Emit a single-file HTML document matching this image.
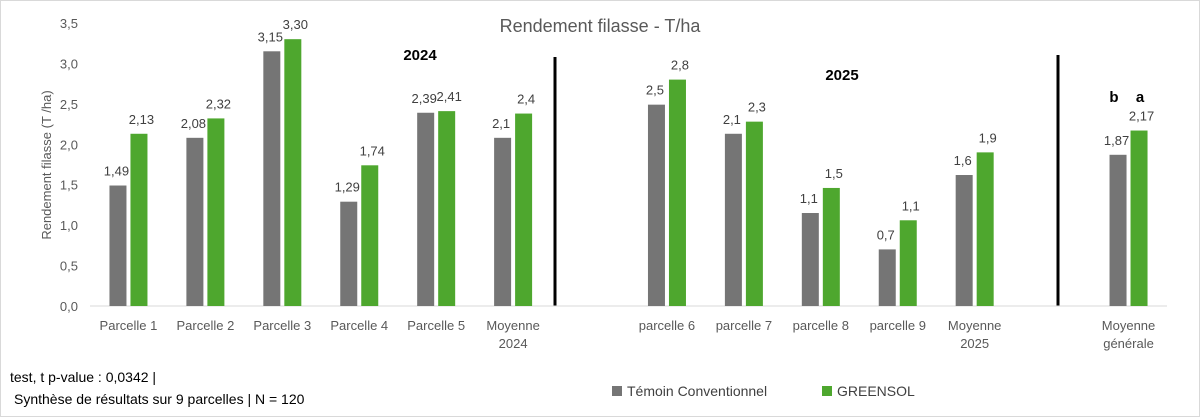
<!DOCTYPE html>
<html><head><meta charset="utf-8"><style>
body{margin:0;background:#fff;}
svg{display:block;font-family:"Liberation Sans",sans-serif;}
</style></head><body>
<svg id="c" width="1200" height="417" viewBox="0 0 1200 417">
<rect x="0.5" y="0.5" width="1199" height="416" fill="#fff" stroke="#d9d9d9"/>
<text x="600" y="32" text-anchor="middle" font-size="18" fill="#595959">Rendement filasse - T/ha</text>
<text transform="translate(51,165) rotate(-90)" text-anchor="middle" font-size="13" fill="#595959">Rendement filasse (T /ha)</text>
<text x="420" y="60" text-anchor="middle" font-size="15" font-weight="bold" fill="#000">2024</text>
<text x="842" y="80" text-anchor="middle" font-size="15" font-weight="bold" fill="#000">2025</text>
<text x="1114" y="102" text-anchor="middle" font-size="15" font-weight="bold" fill="#000">b</text>
<text x="1140" y="102" text-anchor="middle" font-size="15" font-weight="bold" fill="#000">a</text>
<line x1="555" y1="57" x2="555" y2="306" stroke="#000" stroke-width="3"/>
<line x1="1058" y1="55" x2="1058" y2="306" stroke="#000" stroke-width="3"/>
<g id="plot"></g>
<text x="10" y="382" font-size="14" fill="#000">test, t  p-value :  0,0342  |</text>
<text x="14" y="404" font-size="14" fill="#000">Synthèse de résultats sur 9 parcelles  | N =  120</text>
<rect x="612" y="386" width="10" height="10" fill="#757575"/>
<text x="627" y="396" font-size="14" fill="#404040">Témoin Conventionnel</text>
<rect x="822" y="386" width="10" height="10" fill="#4ea72e"/>
<text x="837" y="396" font-size="14" fill="#404040">GREENSOL</text>
</svg>
<script>
const categories=["Parcelle 1","Parcelle 2","Parcelle 3","Parcelle 4","Parcelle 5","Moyenne|2024","","parcelle 6","parcelle 7","parcelle 8","parcelle 9","Moyenne|2025","","Moyenne|générale"];
const temoin=[1.49,2.08,3.15,1.29,2.39,2.08,null,2.49,2.13,1.15,0.70,1.62,null,1.87];
const greensol=[2.13,2.32,3.30,1.74,2.41,2.38,null,2.80,2.28,1.46,1.06,1.90,null,2.17];
const temoinLabels=["1,49","2,08","3,15","1,29","2,39","2,1","","2,5","2,1","1,1","0,7","1,6","","1,87"];
const greensolLabels=["2,13","2,32","3,30","1,74","2,41","2,4","","2,8","2,3","1,5","1,1","1,9","","2,17"];
const yTicks=[0,0.5,1,1.5,2,2.5,3,3.5];
const yTickLabels=["0,0","0,5","1,0","1,5","2,0","2,5","3,0","3,5"];
const NS="http://www.w3.org/2000/svg";
const g=document.getElementById("plot");
const x0=90,x1=1167,y0=306,yTop=23,ymax=3.5;
const slot=(x1-x0)/categories.length;
const y=v=>y0-(v/ymax)*(y0-yTop);
const cx=i=>x0+slot*(i+0.5);
function mk(t,a){const e=document.createElementNS(NS,t);for(const k in a)e.setAttribute(k,a[k]);g.appendChild(e);return e;}
yTicks.forEach((v,i)=>{
 const t=mk("text",{x:78,y:y(v)+5,"text-anchor":"end","font-size":13,fill:"#595959"});
 
 
 t.textContent=yTickLabels[i];
});
const ax=mk("line",{x1:x0,y1:y0,x2:x1,y2:y0,stroke:"#d9d9d9","stroke-width":1});


categories.forEach((c,i)=>{
 const c0=cx(i);
 if(c){
  const lines=c.split("|");
  lines.forEach((l,j)=>{
   const t=mk("text",{x:c0,y:330+j*18,"text-anchor":"middle","font-size":13,fill:"#595959"});
   
   
   t.textContent=l;
  });
 }
 if(temoin[i]!=null){
  const b=mk("rect",{x:c0-19,y:y(temoin[i]),width:17,height:y0-y(temoin[i]),fill:"#757575"});
  
  
  const t=mk("text",{x:c0-12,y:y(temoin[i])-10,"text-anchor":"middle","font-size":13,fill:"#404040"});
  
  
  t.textContent=temoinLabels[i];
 }
 if(greensol[i]!=null){
  const b=mk("rect",{x:c0+2,y:y(greensol[i]),width:17,height:y0-y(greensol[i]),fill:"#4ea72e"});
  
  
  const t=mk("text",{x:c0+13,y:y(greensol[i])-10,"text-anchor":"middle","font-size":13,fill:"#404040"});
  
  
  t.textContent=greensolLabels[i];
 }
});
</script>
</body></html>
